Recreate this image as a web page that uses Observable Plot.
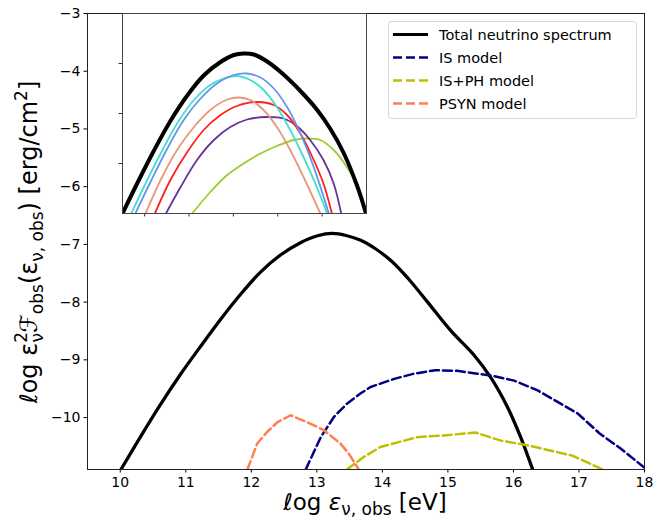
<!DOCTYPE html>
<html><head><meta charset="utf-8">
<script src="https://cdn.jsdelivr.net/npm/d3@7"></script>
<script src="https://cdn.jsdelivr.net/npm/@observablehq/plot@0.6"></script>
<style>body{margin:0;background:#fff}#chart{position:relative;width:656px;height:523px}#insetbox{position:absolute;left:112px;top:10.3px;width:258px;height:213px}</style>
</head><body><div id="chart"><div id="insetbox"></div></div>
<script>
// ---------- main panel data ----------
const xTicks = [10, 11, 12, 13, 14, 15, 16, 17, 18];
const yTicks = [-3, -4, -5, -6, -7, -8, -9, -10];
const seriesNames = ["Total neutrino spectrum", "IS model", "IS+PH model", "PSYN model"];
const seriesColors = ["#000000", "#000080", "#bfbf00", "#ff7f50"];

const totalX = [10.01, 10.31, 10.61, 10.92, 11.23, 11.53, 11.84, 12.14, 12.45, 12.75, 13.01, 13.24, 13.46, 13.67, 13.90, 14.15, 14.40, 14.69, 15.04, 15.40, 15.65, 15.91, 16.11, 16.29];
const totalY = [-10.9, -10.33, -9.78, -9.25, -8.76, -8.30, -7.86, -7.48, -7.18, -6.97, -6.85, -6.81, -6.85, -6.93, -7.08, -7.30, -7.60, -8.00, -8.49, -8.92, -9.30, -9.82, -10.34, -10.89];

const isX = [12.83, 13.06, 13.26, 13.46, 13.67, 13.82, 14.18, 14.48, 14.81, 15.14, 15.45, 15.70, 16.01, 16.37, 16.72, 16.98, 17.32, 17.64, 17.99];
const isY = [-10.9, -10.34, -9.99, -9.76, -9.58, -9.47, -9.33, -9.24, -9.18, -9.19, -9.24, -9.28, -9.36, -9.53, -9.76, -9.93, -10.28, -10.54, -10.86];

const isphX = [13.46, 13.72, 13.97, 14.53, 14.94, 15.42, 15.81, 16.21, 16.90, 17.36];
const isphY = [-10.9, -10.68, -10.51, -10.34, -10.31, -10.26, -10.40, -10.48, -10.66, -10.9];

const psynX = [11.94, 12.09, 12.24, 12.40, 12.60, 12.85, 13.11, 13.36, 13.49, 13.64];
const psynY = [-10.9, -10.45, -10.25, -10.08, -9.96, -10.08, -10.22, -10.45, -10.63, -10.9];

// ---------- inset data ----------
const insetXTicks = [10, 11, 12, 13, 14];
const insetYTicks = [-4, -3, -2];
const insetColors = ["#000000", "#40e0d0", "#6495ed", "#e9967a", "#ff2020", "#663399", "#9acd32"];

const inTotalX = [9.50, 9.83, 10.21, 10.58, 10.96, 11.33, 11.71, 12.01, 12.23, 12.46, 12.76, 13.13, 13.51, 13.88, 14.18, 14.48, 14.79, 14.99];
const inTotalY = [-5.0, -4.40, -3.74, -3.15, -2.64, -2.24, -1.97, -1.83, -1.80, -1.82, -1.96, -2.22, -2.55, -2.92, -3.30, -3.78, -4.45, -5.0];

const inCyanX = [9.70, 9.98, 10.36, 10.73, 11.11, 11.48, 11.78, 12.08, 12.38, 12.68, 12.98, 13.28, 13.58, 13.88, 14.11];
const inCyanY = [-5.0, -4.47, -3.80, -3.20, -2.73, -2.43, -2.30, -2.25, -2.33, -2.53, -2.87, -3.33, -3.87, -4.47, -5.0];

const inBlueX = [9.79, 10.13, 10.51, 10.88, 11.26, 11.63, 12.01, 12.31, 12.61, 12.91, 13.21, 13.51, 13.81, 14.15];
const inBlueY = [-5.0, -4.37, -3.70, -3.13, -2.70, -2.40, -2.23, -2.20, -2.28, -2.50, -2.87, -3.40, -4.07, -5.0];

const inSalmonX = [10.02, 10.36, 10.73, 11.11, 11.48, 11.86, 12.12, 12.38, 12.68, 12.98, 13.28, 13.58, 13.96];
const inSalmonY = [-5.0, -4.33, -3.73, -3.27, -2.93, -2.72, -2.68, -2.73, -2.93, -3.27, -3.73, -4.27, -5.0];

const inRedX = [10.23, 10.58, 10.96, 11.33, 11.71, 12.08, 12.53, 12.91, 13.21, 13.51, 13.81, 14.03, 14.22];
const inRedY = [-5.0, -4.33, -3.77, -3.33, -3.03, -2.85, -2.77, -2.83, -3.03, -3.40, -3.93, -4.40, -5.0];

const inPurpleX = [10.48, 10.81, 11.18, 11.56, 11.93, 12.31, 12.76, 13.13, 13.43, 13.73, 14.03, 14.26, 14.43];
const inPurpleY = [-5.0, -4.47, -3.93, -3.53, -3.27, -3.12, -3.07, -3.10, -3.25, -3.53, -3.93, -4.40, -5.0];

const inGreenX = [11.07, 11.48, 11.86, 12.23, 12.61, 12.98, 13.36, 13.66, 13.96, 14.26, 14.48, 14.79, 14.99];
const inGreenY = [-5.0, -4.57, -4.23, -4.00, -3.80, -3.65, -3.53, -3.50, -3.53, -3.73, -3.97, -4.45, -5.0];

// ---------- build ----------
const rows = (xs, ys) => xs.map((x, i) => ({x, y: ys[i]}));
const fmt = d3.format("d");

const main = Plot.plot({
  width: 656, height: 523,
  marginLeft: 87, marginRight: 12, marginTop: 13, marginBottom: 54,
  style: {fontFamily: "DejaVu Sans", fontSize: "14px", background: "white", color: "black"},
  x: {domain: [9.5, 18], ticks: xTicks, tickFormat: fmt, tickSize: 3.5, tickPadding: 4, label: null},
  y: {domain: [-10.9, -3], ticks: yTicks, tickFormat: fmt, tickSize: 3.5, tickPadding: 3.5, label: null},
  marks: [
    Plot.line(rows(totalX, totalY), {x: "x", y: "y", stroke: seriesColors[0], strokeWidth: 3.3, curve: "catmull-rom", clip: true}),
    Plot.line(rows(isX, isY), {x: "x", y: "y", stroke: seriesColors[1], strokeWidth: 2.5, strokeDasharray: "9,4", clip: true}),
    Plot.line(rows(isphX, isphY), {x: "x", y: "y", stroke: seriesColors[2], strokeWidth: 2.5, strokeDasharray: "9,4", clip: true}),
    Plot.line(rows(psynX, psynY), {x: "x", y: "y", stroke: seriesColors[3], strokeWidth: 2.5, strokeDasharray: "9,4", clip: true}),
    Plot.frame({stroke: "#222", strokeWidth: 1})
  ]
});

const insetSeries = [
  [inGreenX, inGreenY, insetColors[6]], [inPurpleX, inPurpleY, insetColors[5]], [inRedX, inRedY, insetColors[4]],
  [inSalmonX, inSalmonY, insetColors[3]], [inCyanX, inCyanY, insetColors[1]], [inBlueX, inBlueY, insetColors[2]]
];

const inset = Plot.plot({
  width: 258, height: 213,
  marginLeft: 10, marginRight: 4, marginTop: 3, marginBottom: 10,
  style: {fontFamily: "DejaVu Sans", fontSize: "10px", color: "#333", background: "transparent", overflow: "visible"},
  x: {domain: [9.5, 15], ticks: insetXTicks, tickFormat: () => "", tickSize: 3.5, label: null},
  y: {domain: [-5, -1], ticks: insetYTicks, tickFormat: () => "", tickSize: 3.5, label: null},
  marks: [
    Plot.frame({fill: "white", stroke: "none"}),
    ...insetSeries.map(s => Plot.line(rows(s[0], s[1]), {x: "x", y: "y", stroke: s[2], strokeWidth: 1.8, curve: "catmull-rom", clip: true})),
    Plot.line(rows(inTotalX, inTotalY), {x: "x", y: "y", stroke: insetColors[0], strokeWidth: 4, curve: "catmull-rom", clip: true}),
    Plot.frame({stroke: "#444", strokeWidth: 1})
  ]
});

const chart = document.getElementById("chart");
chart.insertBefore(main, chart.firstChild);
document.getElementById("insetbox").appendChild(inset);
const svg = d3.select(main);

// rich text helper
function rich(g, parts) {
  parts.forEach(p => {
    const t = g.append("tspan").text(p.t);
    if (p.dy) t.attr("dy", p.dy);
    if (p.dx) t.attr("dx", p.dx);
    if (p.size) t.attr("font-size", p.size);
    if (p.italic) t.attr("font-style", "italic");
  });
}

// y label
const yl = svg.append("text")
  .attr("transform", "translate(37,242) rotate(-90)")
  .attr("text-anchor", "middle")
  .attr("font-family", "DejaVu Sans").attr("font-size", 24).attr("fill", "black");
rich(yl, [
  {t: "\u2113og \u03b5"},
  {t: "2", size: 17, dy: -10},
  {t: "\u03bd", size: 17, dx: -10.5, dy: 16},
  {t: "\u2131", dy: -6, italic: true},
  {t: "obs", size: 17, dy: 6},
  {t: "(\u03b5", dy: -6},
  {t: "\u03bd, obs", size: 17, dy: 6},
  {t: ") [erg/cm", dy: -6},
  {t: "2", size: 17, dy: -10},
  {t: "]", dy: 10}
]);

// x label
const xl = svg.append("text")
  .attr("x", 365).attr("y", 510)
  .attr("text-anchor", "middle")
  .attr("font-family", "DejaVu Sans").attr("font-size", 23).attr("fill", "black");
rich(xl, [
  {t: "\u2113og "},
  {t: "\u03b5", italic: true},
  {t: "\u03bd, obs", size: 17, dy: 5},
  {t: " [eV]", dy: -5}
]);

// legend
const lg = svg.append("g").attr("font-family", "DejaVu Sans").attr("font-size", 14.5).attr("text-anchor", "start");
lg.append("rect").attr("x", 388.5).attr("y", 21.5).attr("width", 248).attr("height", 97).attr("rx", 3)
  .attr("fill", "white").attr("fill-opacity", 0.85).attr("stroke", "#d6d6d6");
seriesNames.forEach((name, i) => {
  const y = 34.5 + i * 23;
  lg.append("line").attr("x1", 393).attr("x2", 428).attr("y1", y).attr("y2", y)
    .attr("stroke", seriesColors[i]).attr("stroke-width", i === 0 ? 3 : 2.5)
    .attr("stroke-dasharray", i === 0 ? null : "9,4");
  lg.append("text").attr("x", 439).attr("y", y).attr("dy", "0.35em").attr("fill", "black").attr("text-anchor", "start").text(name);
});
</script></body></html>
